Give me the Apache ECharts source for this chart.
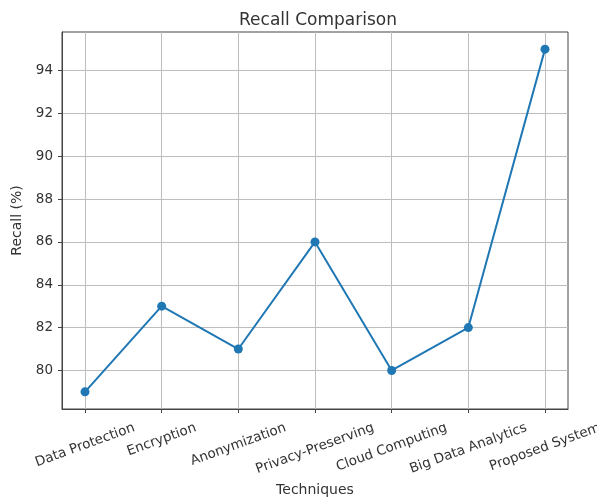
<!DOCTYPE html>
<html><head><meta charset="utf-8">
<script src="https://cdn.jsdelivr.net/npm/echarts@6/dist/echarts.min.js"></script>
<style>html,body{margin:0;padding:0;background:#fff}#c{width:597px;height:500px}</style>
</head><body><div id="c"></div>
<script>
const categories = ["Data Protection","Encryption","Anonymization","Privacy-Preserving","Cloud Computing","Big Data Analytics","Proposed System"];
const recall = [79, 83, 81, 86, 80, 82, 95];
const yTicks = [80, 82, 84, 86, 88, 90, 92, 94];

const xIdx = categories.map((c,i)=>i);
const data = recall.map((v,i)=>[i,v]);
const font = 'DejaVu Sans';
const labelSize = 13.5;
const rot = 20 * Math.PI / 180;

// top-align rotated x labels (like matplotlib va='top'): shift each down by half its rotated height
const ctx = document.createElement('canvas').getContext('2d');
ctx.font = labelSize + 'px "' + font + '"';
const rich = {};
categories.forEach((c,i)=>{
  const L = ctx.measureText(c).width;
  const H = L*Math.sin(rot) + labelSize*Math.cos(rot);
  const d = H/2;
  rich['l'+i] = {fontFamily:font,fontSize:labelSize,color:'#333',
    padding:[2*d*Math.cos(rot), 2*d*Math.sin(rot), 0, 0]};
});

const chart = echarts.init(document.getElementById('c'));
chart.setOption({
  animation:false,
  title:{text:'Recall Comparison',left:313,top:7,textAlign:'center',
    textStyle:{fontFamily:font,fontSize:17,fontWeight:'normal',color:'#333'}},
  grid:{left:62,right:29,top:32,bottom:91,outerBoundsMode:'none',containLabel:false,
    show:true,borderColor:'#444',borderWidth:1,backgroundColor:'transparent'},
  xAxis:{type:'value',min:-0.3,max:6.3,
    name:'Techniques',nameLocation:'middle',nameGap:74,
    nameTextStyle:{fontFamily:font,fontSize:14,color:'#333'},
    axisLine:{show:true,onZero:false,lineStyle:{color:'#444'}},
    axisTick:{show:true,length:4,customValues:xIdx,lineStyle:{color:'#444'}},
    axisLabel:{customValues:xIdx,
      formatter:v=>{const i=Math.round(v);return categories[i]?('{l'+i+'|'+categories[i]+'}'):'';},
      rich:rich,rotate:20,align:'center',verticalAlign:'middle',margin:12,
      fontFamily:font,fontSize:labelSize,color:'#333'},
    splitLine:{show:true,lineStyle:{color:'#bdbdbd',width:1}}
  },
  yAxis:{type:'value',min:78.2,max:95.8,
    name:'Recall (%)',nameLocation:'middle',nameGap:38,
    nameTextStyle:{fontFamily:font,fontSize:14,color:'#333'},
    axisLine:{show:true,onZero:false,lineStyle:{color:'#444'}},
    axisTick:{show:true,length:4,customValues:yTicks,lineStyle:{color:'#444'}},
    axisLabel:{customValues:yTicks,fontFamily:font,fontSize:labelSize,color:'#333',margin:9},
    splitLine:{show:true,lineStyle:{color:'#bdbdbd',width:1}}
  },
  series:[{type:'line',data:data,symbol:'circle',symbolSize:9,
    lineStyle:{color:'#1f77b4',width:2},itemStyle:{color:'#1f77b4'}}]
});
</script></body></html>
